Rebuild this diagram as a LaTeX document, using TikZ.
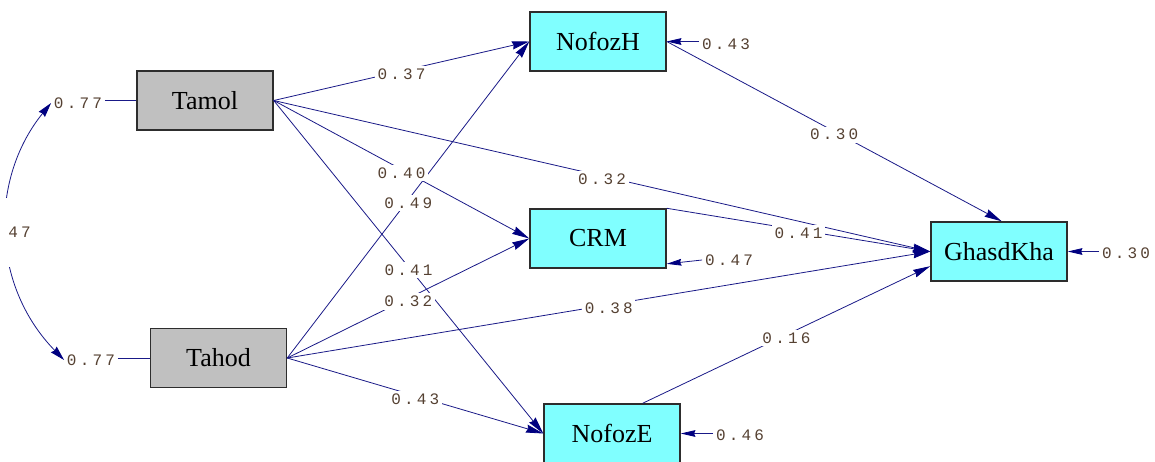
\documentclass[tikz,border=0pt]{standalone}
\usepackage{fontspec}
\setmainfont{Liberation Serif}
\newfontfamily\lblfont[LetterSpace=20]{Liberation Mono}
\usetikzlibrary{arrows.meta,calc}
\definecolor{lineblue}{RGB}{25,25,135}
\definecolor{headblue}{RGB}{0,0,128}
\definecolor{exofill}{RGB}{192,192,192}
\definecolor{endofill}{RGB}{128,255,255}
\definecolor{boxline}{RGB}{45,45,45}
\definecolor{numcol}{RGB}{85,65,50}
\begin{document}
\begin{tikzpicture}[x=0.75pt,y=-0.75pt,
  varbox/.style={draw=boxline,line width=1.1pt,minimum width=102pt,minimum height=44.25pt,inner sep=0pt,font=\fontsize{19.5}{20}\selectfont},
  exo/.style={varbox,fill=exofill},
  endo/.style={varbox,fill=endofill},
  conn/.style={draw=lineblue,line width=0.6pt},
  effect/.style={conn,-{Stealth[length=13pt,width=6pt,inset=1pt,color=headblue]}},
  errarrow/.style={conn,-{Stealth[length=11pt,width=5pt,inset=1pt,color=headblue]}},
  covarrow/.style={conn,{Stealth[length=11pt,width=6pt,inset=1pt,color=headblue]}-{Stealth[length=11pt,width=6pt,inset=1pt,color=headblue]}},
  lbl/.style={fill=white,inner xsep=2pt,inner ysep=2pt,text=numcol,font=\fontsize{12}{13}\lblfont},
  midlbl/.style={lbl,yshift=-2.5pt}]
\useasboundingbox (0,0) rectangle (1155,461);
% variables
\node[exo]  (Tamol)    at (205,100.5) {Tamol};
\node[exo]  (Tahod)    at (218.5,358) {Tahod};
\node[endo] (NofozH)   at (598,41.5)  {NofozH};
\node[endo] (CRM)      at (598,238.5) {CRM};
\node[endo] (NofozE)   at (612,433.5) {NofozE};
\node[endo] (GhasdKha) at (999,251.5) {GhasdKha};
% variances and error terms
\node[lbl] (vTamol) at (78,103)  {0.77};
\node[lbl] (vTahod) at (91,360)  {0.77};
\node[lbl] (eNH)    at (726,44)  {0.43};
\node[lbl] (eCRM)   at (729,260) {0.47};
\node[lbl] (eNE)    at (740,435) {0.46};
\node[lbl] (eGK)    at (1126,253) {0.30};
\draw[conn] (vTamol.east |- Tamol.west) -- (Tamol.west);
\draw[conn] (vTahod.east |- Tahod.west) -- (Tahod.west);
\draw[errarrow] (eNH.west |- NofozH.east) -- (NofozH.east);
\draw[errarrow] (eCRM.west) -- ([yshift=-19pt]CRM.east);
\draw[errarrow] (eNE.west |- NofozE.east) -- (NofozE.east);
\draw[errarrow] (eGK.west |- GhasdKha.east) -- (GhasdKha.east);
% covariance
\draw[covarrow] (vTamol.west) .. controls (-10,178) and (-10,284) .. coordinate[pos=0.5] (m0) (vTahod.west);
% paths
\draw[effect] (Tamol.east) -- coordinate[midway] (m1) (NofozH.west);
\draw[effect] (Tamol.east) -- coordinate[midway] (m2) (CRM.west);
\draw[effect] (Tamol.east) -- coordinate[midway] (m3) (GhasdKha.west);
\draw[effect] (Tamol.east) -- coordinate[midway] (m4) (NofozE.west);
\draw[effect] (Tahod.east) -- coordinate[midway] (m5) (NofozH.west);
\draw[effect] (Tahod.east) -- coordinate[midway] (m6) (CRM.west);
\draw[effect] (Tahod.east) -- coordinate[midway] (m7) (GhasdKha.west);
\draw[effect] (Tahod.east) -- coordinate[midway] (m8) (NofozE.west);
\draw[effect] (NofozH.east) -- coordinate[midway] (m9) ([xshift=2pt]GhasdKha.north);
\draw[effect] (CRM.north east) -- coordinate[midway] (m10) (GhasdKha.west);
\draw[effect] ([xshift=23pt]NofozE.north) -- coordinate[midway] (m11) ([yshift=-11pt]GhasdKha.west);
% coefficient labels
\node[lbl,inner ysep=22pt,inner xsep=6pt] (c47) at ([xshift=9.5pt,yshift=-1pt]m0) {47};
\node[midlbl] at (m1) {0.37};
\node[midlbl] at (m2) {0.40};
\node[midlbl] at (m3) {0.32};
\node[midlbl] at (m4) {0.41};
\node[midlbl] at (m5) {0.49};
\node[midlbl] at (m6) {0.32};
\node[midlbl] at (m7) {0.38};
\node[midlbl] at (m8) {0.43};
\node[midlbl] at (m9) {0.30};
\node[midlbl] at (m10) {0.41};
\node[midlbl] at (m11) {0.16};
\end{tikzpicture}
\end{document}
